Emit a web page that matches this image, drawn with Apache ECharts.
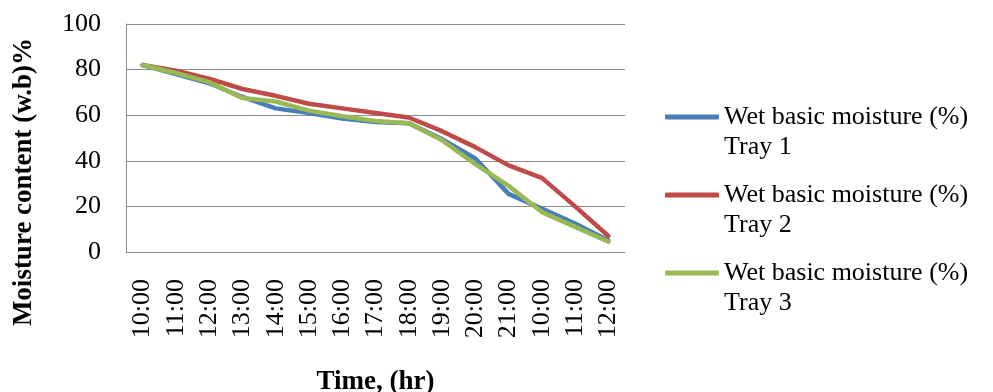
<!DOCTYPE html>
<html>
<head>
<meta charset="utf-8">
<script src="https://cdn.jsdelivr.net/npm/echarts@6/dist/echarts.min.js"></script>
<style>
  html, body { margin: 0; padding: 0; background: #fff; }
  #chart { width: 993px; height: 392px; }
</style>
</head>
<body>
<div id="chart"></div>
<script>
// Drying time readings (two days: 10:00–21:00, then 10:00–12:00)
const timeLabels = ['10:00', '11:00', '12:00', '13:00', '14:00', '15:00', '16:00', '17:00',
  '18:00', '19:00', '20:00', '21:00', '10:00', '11:00', '12:00'];

// Wet-basis moisture content (%) per tray
const tray1 = [82, 78, 74, 68, 63, 61, 58.5, 57, 56.5, 49.5, 41, 25.5, 19, 12.5, 5];
const tray2 = [82, 79.5, 76, 71.5, 68.5, 65, 63, 61, 59, 53, 46, 38, 32.5, 20, 7];
const tray3 = [82, 78.5, 74.5, 67.5, 66, 62, 59.5, 57.5, 56.5, 49, 38.5, 29, 17.5, 11, 4.5];

const seriesNames = [
  'Wet basic moisture (%) Tray 1',
  'Wet basic moisture (%) Tray 2',
  'Wet basic moisture (%) Tray 3'
];
const seriesColors = ['#4A7EBB', '#BE4B48', '#98B954'];
const seriesData = [tray1, tray2, tray3];

const FONT = 'Liberation Serif';

const chart = echarts.init(document.getElementById('chart'), null, { renderer: 'canvas' });

chart.setOption({
  animation: false,
  backgroundColor: '#ffffff',
  grid: { left: 126, right: 368, top: 24, bottom: 140, containLabel: false, outerBoundsMode: 'none' },
  xAxis: {
    type: 'category',
    data: timeLabels,
    boundaryGap: true,
    name: 'Time, (hr)',
    nameLocation: 'middle',
    nameGap: 117,
    nameTextStyle: { fontFamily: FONT, fontWeight: 'bold', fontSize: 27, color: '#000', verticalAlign: 'top' },
    axisLine: { show: true, lineStyle: { color: '#8c8c8c', width: 1 } },
    axisTick: { show: false },
    axisLabel: { rotate: 90, margin: 27, fontFamily: FONT, fontSize: 26, color: '#000', interval: 0 },
    splitLine: { show: false }
  },
  yAxis: {
    type: 'value',
    min: 0,
    max: 100,
    interval: 20,
    name: 'Moisture content (w.b)%',
    nameLocation: 'middle',
    nameGap: 88,
    nameTextStyle: {
      fontFamily: FONT, fontWeight: 'bold', fontSize: 27, color: '#000',
      padding: [0, 88, 0, 0]
    },
    axisLine: { show: true, lineStyle: { color: '#8c8c8c', width: 1 } },
    axisTick: { show: false },
    axisLabel: { margin: 25, fontFamily: FONT, fontSize: 26, color: '#000' },
    splitLine: { show: true, lineStyle: { color: '#8c8c8c', width: 1 } }
  },
  legend: {
    orient: 'vertical',
    left: 665,
    top: 72,
    padding: 0,
    itemGap: -12,
    icon: 'roundRect',
    itemWidth: 54,
    itemHeight: 5,
    data: seriesNames,
    // leading blank line keeps the first text line level with the swatch
    formatter: (name) => '\n' + name.replace(' Tray', '\nTray'),
    textStyle: { fontFamily: FONT, fontSize: 26, color: '#000', lineHeight: 30 }
  },
  series: seriesData.map((values, i) => ({
    name: seriesNames[i],
    type: 'line',
    data: values,
    symbol: 'none',
    smooth: false,
    color: seriesColors[i],
    itemStyle: { color: seriesColors[i] },
    lineStyle: { color: seriesColors[i], width: 4.5, cap: 'round', join: 'round' }
  }))
});
</script>
</body>
</html>
